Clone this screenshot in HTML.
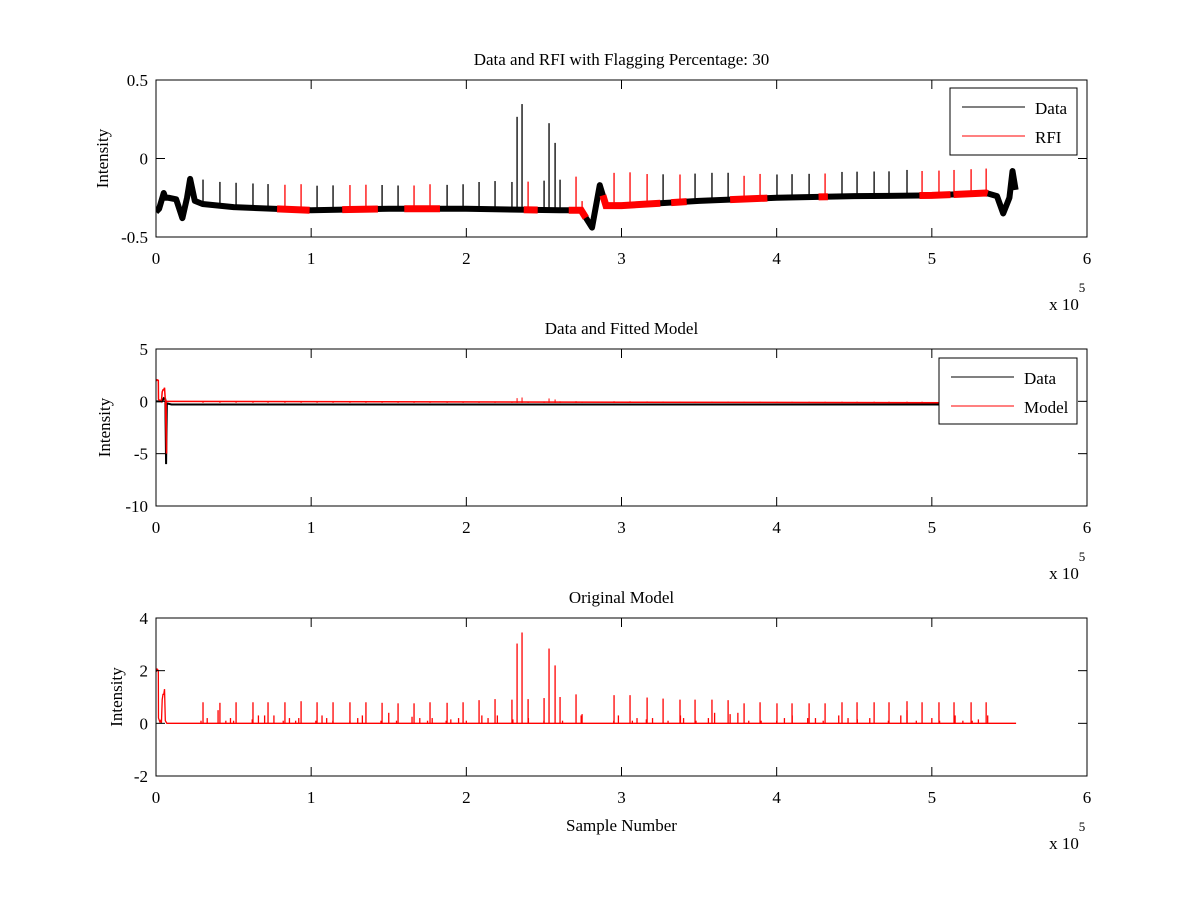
<!DOCTYPE html>
<html><head><meta charset="utf-8"><style>
body{margin:0;background:#fff;}
svg text{font-family:"Liberation Serif",serif;fill:#000;}
</style></head><body>
<svg id="fig" width="1200" height="900" viewBox="0 0 1200 900">
<rect width="1200" height="900" fill="#fff"/>
</svg>
<script>
// ---------- data ----------
const spikeX = [0.303,0.412,0.516,0.625,0.722,0.831,0.935,1.038,1.141,1.25,1.353,1.457,1.56,1.663,1.766,1.876,1.979,2.082,2.185,2.294,2.327,2.359,2.398,2.501,2.533,2.572,2.604,2.707,2.746,2.952,3.055,3.165,3.268,3.377,3.474,3.583,3.687,3.79,3.893,4.002,4.099,4.209,4.312,4.421,4.518,4.628,4.724,4.84,4.937,5.046,5.143,5.253,5.35];
const spikeH = [0.8,0.78,0.8,0.8,0.8,0.8,0.84,0.8,0.8,0.8,0.8,0.78,0.76,0.76,0.8,0.78,0.8,0.88,0.92,0.9,3.03,3.45,0.92,0.96,2.84,2.2,1.0,1.1,0.35,1.07,1.07,0.98,0.94,0.9,0.9,0.9,0.88,0.76,0.8,0.76,0.76,0.76,0.76,0.8,0.8,0.8,0.8,0.84,0.8,0.8,0.8,0.8,0.8];
const smallX = [0.29,0.33,0.4,0.45,0.48,0.5,0.62,0.66,0.7,0.76,0.82,0.86,0.9,0.92,1.03,1.07,1.1,1.14,1.25,1.3,1.33,1.45,1.5,1.55,1.65,1.7,1.75,1.78,1.87,1.9,1.95,2.0,2.1,2.14,2.2,2.3,2.4,2.5,2.62,2.74,2.95,2.98,3.07,3.1,3.16,3.2,3.3,3.38,3.4,3.48,3.56,3.6,3.7,3.75,3.82,3.9,4.0,4.05,4.1,4.2,4.25,4.3,4.4,4.46,4.52,4.6,4.72,4.8,4.84,4.9,5.0,5.05,5.15,5.2,5.26,5.3,5.36];
const smallH = [0.1,0.2,0.5,0.1,0.2,0.1,0.15,0.3,0.3,0.3,0.1,0.2,0.1,0.2,0.1,0.3,0.2,0.1,0.1,0.2,0.3,0.1,0.4,0.1,0.25,0.2,0.1,0.2,0.1,0.15,0.2,0.1,0.3,0.2,0.3,0.15,0.2,0.1,0.1,0.3,0.1,0.3,0.1,0.2,0.15,0.2,0.1,0.3,0.2,0.1,0.2,0.4,0.35,0.4,0.1,0.1,0.1,0.2,0.3,0.2,0.2,0.1,0.3,0.2,0.15,0.2,0.1,0.3,0.5,0.1,0.2,0.1,0.3,0.1,0.1,0.15,0.3];
const modelEarlyX = [0,0.005,0.01,0.015,0.016,0.025,0.03,0.035,0.04,0.045,0.05,0.055,0.06,0.065,0.07,0.075];
const modelEarlyY = [2.1,2.0,2.05,2.0,0.2,0.05,0.1,0,0.9,1.1,1.1,1.3,0.1,0.05,0,0];
const modelEndX = 5.543;
const baseX = [0,0.02,0.05,0.06,0.08,0.13,0.17,0.2,0.22,0.25,0.3,0.5,1.0,1.5,2.0,2.6,2.74,2.81,2.86,2.9,3.0,3.5,4.0,4.5,5.0,5.35,5.42,5.46,5.5,5.52,5.54];
const baseY = [-0.34,-0.32,-0.22,-0.25,-0.25,-0.26,-0.38,-0.25,-0.13,-0.27,-0.29,-0.31,-0.33,-0.32,-0.32,-0.33,-0.33,-0.44,-0.17,-0.3,-0.3,-0.27,-0.25,-0.24,-0.235,-0.22,-0.24,-0.35,-0.25,-0.08,-0.2];
const rfiStart = [0.78,1.20,1.60,2.37,2.66,2.88,3.32,3.70,4.27,4.92,5.14];
const rfiEnd   = [0.99,1.43,1.83,2.46,2.77,3.25,3.42,3.94,4.33,5.12,5.36];
const xTicks = [0,1,2,3,4,5,6];
const y1Ticks = [-0.5,0,0.5], y1Labels=["-0.5","0","0.5"];
const y2Ticks = [-10,-5,0,5], y2Labels=["-10","-5","0","5"];
const y3Ticks = [-2,0,2,4], y3Labels=["-2","0","2","4"];

const NS="http://www.w3.org/2000/svg";
const svg=document.getElementById('fig');
function mk(tag,attrs,parent){const e=document.createElementNS(NS,tag);for(const k in attrs)e.setAttribute(k,attrs[k]);(parent||svg).appendChild(e);return e;}
function txt(s,x,y,size,anchor,name,parent){const t=mk('text',{x:x,y:y,'font-size':size,'text-anchor':anchor||'middle'},parent);t.textContent=s;


return t;}

const L=156,R=1087;
function axes(top,bot,ymin,ymax,yt,yl,title,name,ylabelX){
  const g=mk('g',{});
  
  
  const sx=v=>L+(v/6)*(R-L);
  const sy=v=>bot-(v-ymin)/(ymax-ymin)*(bot-top);
  const clipId=name+'-clip';
  const cp=mk('clipPath',{id:clipId},g);mk('rect',{x:L,y:top,width:R-L,height:bot-top},cp);
  const plot=mk('g',{'clip-path':'url(#'+clipId+')'},g);
  return {g,sx,sy,plot,finish:function(){
    mk('rect',{x:L,y:top,width:R-L,height:bot-top,fill:'none',stroke:'#000','stroke-width':1},g);
    xTicks.forEach(t=>{const x=sx(t);
      mk('line',{x1:x,y1:bot,x2:x,y2:bot-9,stroke:'#000'},g);mk('line',{x1:x,y1:top,x2:x,y2:top+9,stroke:'#000'},g);
      txt(String(t),x,bot+27,17,'middle','x-tick-label',g);});
    yt.forEach((t,i)=>{const y=sy(t);
      mk('line',{x1:L,y1:y,x2:L+9,y2:y,stroke:'#000'},g);mk('line',{x1:R,y1:y,x2:R-9,y2:y,stroke:'#000'},g);
      txt(yl[i],L-8,y+6,17,'end','y-tick-label',g);});
    txt('x 10',1064,bot+73,17,'middle','x-exponent-label',g);
    txt('5',1082,bot+55,13,'middle','x-exponent-power',g);
    txt(title,(L+R)/2,top-15,17,'middle','axes-title',g);
    const yl2=txt('Intensity',0,0,17,'middle','y-axis-title',g);
    yl2.setAttribute('transform','translate('+ylabelX+','+((top+bot)/2)+') rotate(-90)');
  }};
}
function legend(g,x,y,w,h,items){
  const lg=mk('g',{},g);
  
  
  mk('rect',{x:x,y:y,width:w,height:h,fill:'#fff',stroke:'#000'},lg);
  items.forEach((it,i)=>{const yy=y+19+i*29;
    const e=mk('g',{},lg);
    
    
    mk('line',{x1:x+12,y1:yy,x2:x+75,y2:yy,stroke:it[1],'stroke-width':1},e);
    txt(it[0],x+85,yy+7,17,'start','legend-label',e);});
}
function inRfi(v){for(let i=0;i<rfiStart.length;i++)if(v>=rfiStart[i]&&v<=rfiEnd[i])return true;return false;}
function baseAt(v){for(let i=1;i<baseX.length;i++)if(v<=baseX[i]){const f=(v-baseX[i-1])/(baseX[i]-baseX[i-1]);return baseY[i-1]+f*(baseY[i]-baseY[i-1]);}return baseY[baseY.length-1];}

// ---------- plot 1 ----------
const a1=axes(80,237,-0.5,0.5,y1Ticks,y1Labels,'Data and RFI with Flagging Percentage: 30','axes-data-rfi',108);
const pts=baseX.map((v,i)=>a1.sx(v)+','+a1.sy(baseY[i])).join(' ');
const dl=mk('polyline',{points:pts,fill:'none',stroke:'#000','stroke-width':6,'stroke-linejoin':'round'},a1.plot);


for(let i=0;i<rfiStart.length;i++){
  const xs=[rfiStart[i]];baseX.forEach(v=>{if(v>rfiStart[i]&&v<rfiEnd[i])xs.push(v);});xs.push(rfiEnd[i]);
  const r=mk('polyline',{points:xs.map(v=>a1.sx(v)+','+a1.sy(baseAt(v))).join(' '),fill:'none',stroke:'#f00','stroke-width':7},a1.plot);
  
  
}
spikeX.forEach((v,i)=>{const b=baseAt(v);
  const l=mk('line',{x1:a1.sx(v),x2:a1.sx(v),y1:a1.sy(b),y2:a1.sy(b+spikeH[i]*0.195),stroke:inRfi(v)?'#f00':'#000','stroke-width':1.3},a1.plot);
  
  
});
a1.finish();
legend(a1.g,950,88,127,67,[['Data','#000'],['RFI','#f00']]);

// ---------- plot 2 ----------
const a2=axes(349,506,-10,5,y2Ticks,y2Labels,'Data and Fitted Model','axes-fitted-model',110);
const d2=mk('polyline',{points:[[0,0],[0.04,0],[0.05,0.3],[0.06,0.2],[0.065,-6],[0.07,-0.2],[0.1,-0.3],[5.54,-0.3]].map(p=>a2.sx(p[0])+','+a2.sy(p[1])).join(' '),fill:'none',stroke:'#000','stroke-width':2},a2.plot);


const mpts=modelEarlyX.map((v,i)=>[v,modelEarlyY[i]]);mpts.splice(13,0,[0.068,-5]);mpts.push([5.54,-0.15]);
const m2=mk('polyline',{points:mpts.map(p=>a2.sx(p[0])+','+a2.sy(p[1])).join(' '),fill:'none',stroke:'#f00','stroke-width':1.5},a2.plot);


spikeX.forEach((v,i)=>{const l=mk('line',{x1:a2.sx(v),x2:a2.sx(v),y1:a2.sy(-0.15),y2:a2.sy(-0.15+spikeH[i]*0.15),stroke:'#f00','stroke-width':1},a2.plot);
  
  });
a2.finish();
legend(a2.g,939,358,138,66,[['Data','#000'],['Model','#f00']]);

// ---------- plot 3 ----------
const a3=axes(618,776,-2,4,y3Ticks,y3Labels,'Original Model','axes-original-model',122);
const p3=modelEarlyX.map((v,i)=>a3.sx(v)+','+a3.sy(modelEarlyY[i]));p3.push(a3.sx(modelEndX)+','+a3.sy(0));
const m3=mk('polyline',{points:p3.join(' '),fill:'none',stroke:'#f00','stroke-width':1.3},a3.plot);


spikeX.forEach((v,i)=>{const l=mk('line',{x1:a3.sx(v),x2:a3.sx(v),y1:a3.sy(0),y2:a3.sy(spikeH[i]),stroke:'#f00','stroke-width':1.3},a3.plot);
  
  });
smallX.forEach((v,i)=>{const l=mk('line',{x1:a3.sx(v),x2:a3.sx(v),y1:a3.sy(0),y2:a3.sy(smallH[i]),stroke:'#f00','stroke-width':1.3},a3.plot);
  
  });
a3.finish();
txt('Sample Number',(L+R)/2,831,17,'middle','x-axis-title');
</script>
</body></html>
